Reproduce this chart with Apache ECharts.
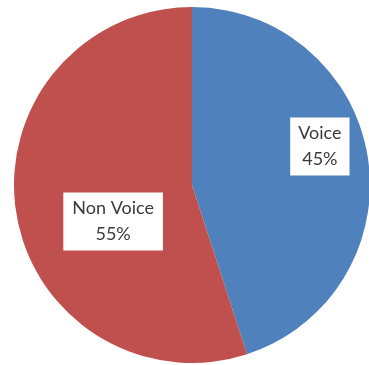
<!DOCTYPE html>
<html>
<head>
<meta charset="utf-8">
<script src="https://cdn.jsdelivr.net/npm/echarts@6/dist/echarts.min.js"></script>
<style>
  html, body { margin: 0; padding: 0; background: #ffffff; }
  #chart { width: 369px; height: 365px; }
</style>
</head>
<body>
<div id="chart"></div>
<script>
// Share of traffic by type
const categories = ['Voice', 'Non Voice'];
const shares = [45, 55];
const sliceColors = ['#4F81BD', '#C0504D'];

// Label box placement, relative to the default inside position
const labelOffsets = [[37, -24], [12, 22]];
const labelPadding = [[4, 8, 2, 8], [4, 9, 2, 9]];

const chart = echarts.init(document.getElementById('chart'), null, { renderer: 'canvas' });

const data = categories.map((name, i) => ({
  name: name,
  value: shares[i],
  itemStyle: { color: sliceColors[i] },
  label: { offset: labelOffsets[i], padding: labelPadding[i] }
}));

chart.setOption({
  backgroundColor: '#ffffff',
  animation: false,
  series: [{
    type: 'pie',
    center: [192, 185],
    radius: 178,
    startAngle: 90,
    clockwise: true,
    avoidLabelOverlap: false,
    itemStyle: { borderWidth: 0 },
    label: {
      show: true,
      position: 'inside',
      formatter: p => p.name + '\n' + Math.round(p.percent) + '%',
      fontFamily: 'Lato',
      fontSize: 18,
      lineHeight: 26,
      color: '#3a3a3a',
      backgroundColor: '#ffffff',
      align: 'center'
    },
    labelLine: { show: false },
    emphasis: { disabled: true },
    data: data
  }]
});
</script>
</body>
</html>
